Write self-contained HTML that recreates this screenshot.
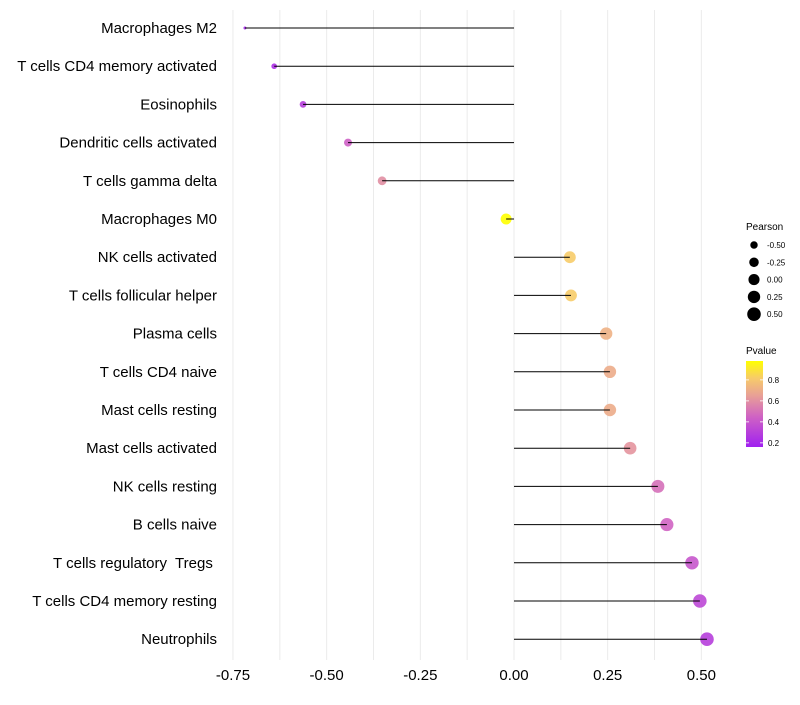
<!DOCTYPE html>
<html><head><meta charset="utf-8"><style>
body{margin:0;background:#fff;}
svg text{font-family:"Liberation Sans",Arial,sans-serif;white-space:pre;}
</style></head><body>
<svg id="chart" width="800" height="700" viewBox="0 0 800 700" xmlns="http://www.w3.org/2000/svg">
<defs>
<linearGradient id="pgrad" x1="0" y1="1" x2="0" y2="0">
<stop offset="0" stop-color="#A020F0"/>
<stop offset="0.35" stop-color="#CF62C4"/>
<stop offset="0.6" stop-color="#E8A096"/>
<stop offset="0.8" stop-color="#F7CB6A"/>
<stop offset="1" stop-color="#FFFF00"/>
</linearGradient>
</defs>
<g id="grid"></g>
<g id="marks"></g>
<g id="ylabels"></g>
<g id="xlabels"></g>
<g>
<text x="746" y="230" font-size="10" fill="#000">Pearson</text>
<g id="sizeLegend"></g>
</g>
<g>
<text x="746" y="354" font-size="10" fill="#000">Pvalue</text>
<rect x="746" y="361" width="17" height="86" fill="url(#pgrad)"/>
<g id="colorLegend"></g>
</g>
</svg>
<script>
const categories=["Macrophages M2","T cells CD4 memory activated","Eosinophils","Dendritic cells activated","T cells gamma delta","Macrophages M0","NK cells activated","T cells follicular helper","Plasma cells","T cells CD4 naive","Mast cells resting","Mast cells activated","NK cells resting","B cells naive","T cells regulatory  Tregs ","T cells CD4 memory resting","Neutrophils"];
const pearson=[-0.718,-0.64,-0.563,-0.443,-0.352,-0.021,0.149,0.152,0.246,0.256,0.256,0.31,0.384,0.408,0.475,0.496,0.515];
const pvalue=[0.2,0.24,0.3,0.45,0.6,0.98,0.82,0.82,0.72,0.7,0.7,0.62,0.5,0.46,0.4,0.34,0.3];
const xTicks=[-0.75,-0.5,-0.25,0,0.25,0.5];
const xTickLabels=["-0.75","-0.50","-0.25","0.00","0.25","0.50"];
const sizeLegendVals=[-0.5,-0.25,0,0.25,0.5];
const sizeLegendLabels=["-0.50","-0.25","0.00","0.25","0.50"];
const colorLegendVals=[0.8,0.6,0.4,0.2];

const NS="http://www.w3.org/2000/svg";
function x(v){return 514+v*374.7;}
function y(i){return 28+i*38.2;}
const pmin=Math.min(...pearson), pmax=Math.max(...pearson);
function r(v){const t=Math.max(0,Math.min(1,(v-pmin)/(pmax-pmin)));return 1.5+5.3*Math.sqrt(t);}
function cy(p){return 446-(p-0.17)/(0.98-0.17)*85;}
const stops=[[0,[160,32,240]],[0.35,[207,98,196]],[0.6,[232,160,150]],[0.8,[247,203,106]],[1,[255,255,0]]];
function col(p){let t=Math.min(1,Math.max(0,(p-0.17)/(0.98-0.17)));
for(let k=1;k<stops.length;k++){if(t<=stops[k][0]){const a=stops[k-1],b=stops[k];const f=(t-a[0])/(b[0]-a[0]);
const c=a[1].map((v,j)=>Math.round(v+(b[1][j]-v)*f));return `rgb(${c.join(',')})`;}}return 'rgb(255,255,0)';}
function mk(tag,attrs,parent){const e=document.createElementNS(NS,tag);for(const k in attrs)e.setAttribute(k,attrs[k]);parent.appendChild(e);return e;}

const grid=document.getElementById('grid');
for(let v=-0.75;v<=0.5001;v+=0.125){
 const gl=mk('line',{x1:x(v),x2:x(v),y1:10,y2:660,stroke:'#ebebeb','stroke-width':1},grid);
 
 
}
const marks=document.getElementById('marks');
const ylab=document.getElementById('ylabels');
categories.forEach((c,i)=>{
 const pt=mk('circle',{cx:x(pearson[i]),cy:y(i),r:r(pearson[i]),fill:col(pvalue[i]),'fill-opacity':0.9},marks);
 
 
 const ln=mk('line',{x1:x(0),x2:x(pearson[i]),y1:y(i),y2:y(i),stroke:'#000','stroke-width':1},marks);
 
 
 const t=mk('text',{x:217,y:y(i)+5,'font-size':15,'text-anchor':'end',fill:'#000'},ylab);
 t.textContent=c;
 
 
});
const xl=document.getElementById('xlabels');
xTicks.forEach((v,i)=>{
 const t=mk('text',{x:x(v),y:680,'font-size':15,'text-anchor':'middle',fill:'#000'},xl);
 t.textContent=xTickLabels[i];
 
 
});
const sl=document.getElementById('sizeLegend');
sizeLegendVals.forEach((v,i)=>{
 const yy=245+i*17.3;
 const c=mk('circle',{cx:754,cy:yy,r:r(v),fill:'#000'},sl);
 
 
 const t=mk('text',{x:767,y:yy+3,'font-size':8,fill:'#000'},sl);
 t.textContent=sizeLegendLabels[i];
 
 
});
const cl=document.getElementById('colorLegend');
colorLegendVals.forEach(v=>{
 const yy=cy(v);
 const tk=mk('line',{x1:746,x2:749,y1:yy,y2:yy,stroke:'#fff','stroke-width':0.8},cl);
 
 
 const tk2=mk('line',{x1:760,x2:763,y1:yy,y2:yy,stroke:'#fff','stroke-width':0.8},cl);
 
 
 const t=mk('text',{x:768,y:yy+3,'font-size':8,fill:'#000'},cl);
 t.textContent=v.toFixed(1);
 
 
});
</script>
</body></html>
